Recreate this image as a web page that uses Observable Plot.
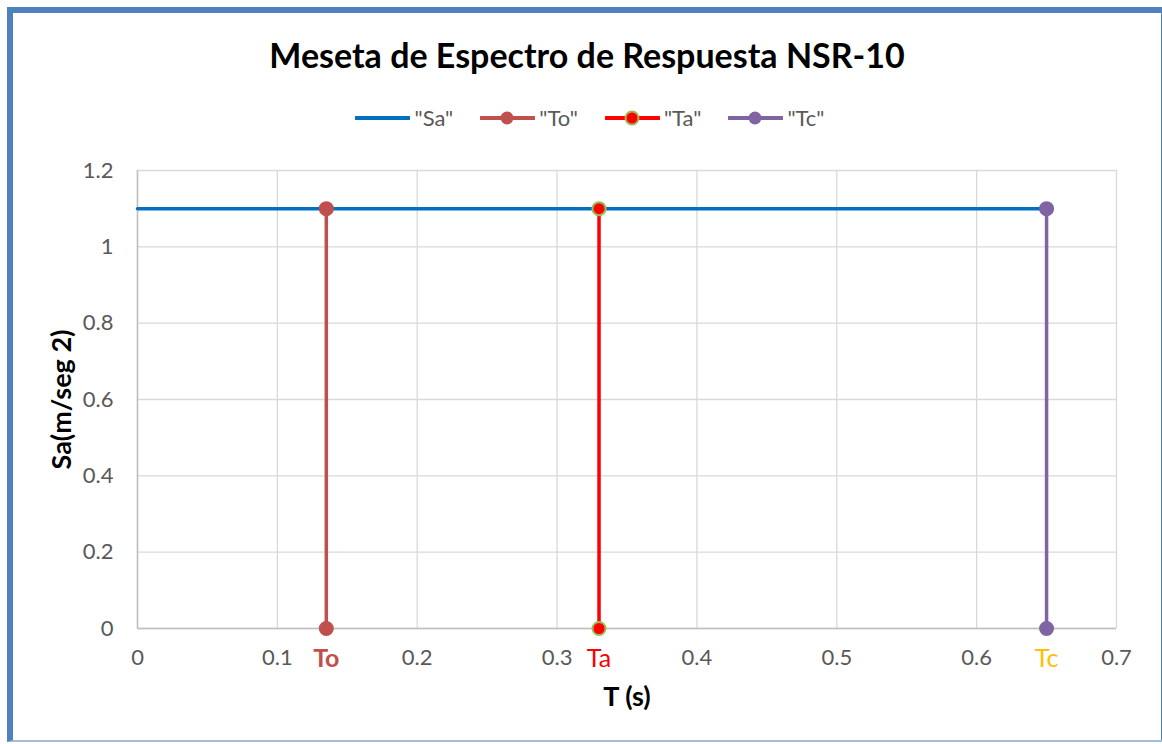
<!DOCTYPE html>
<html>
<head>
<meta charset="utf-8">
<script src="https://cdn.jsdelivr.net/npm/d3@7"></script>
<script src="https://cdn.jsdelivr.net/npm/@observablehq/plot@0.6"></script>
<style>
  html, body { margin: 0; padding: 0; background: #fff; overflow: hidden; }
  body { width: 1162px; height: 744px; position: relative; font-family: Lato, "Open Sans", sans-serif; }
  #frame { position: absolute; left: 7px; top: 7px; width: 1160px; height: 735px; box-sizing: border-box;
           border-left: 6px solid #4F81BD; border-top: 6px solid #4F81BD; border-right: 6px solid #4F81BD; border-bottom: 2px solid #a9bcd6; }
  #title { position: absolute; left: 0; top: 34px; width: 1174px; text-align: center; font-size: 34px; font-weight: bold; color: #000; line-height: 42px; }
  #legend { position: absolute; left: 0; top: 104px; width: 1180px; display: flex; justify-content: center; gap: 27px; font-size: 22px; color: #595959; line-height: 28px; }
  #legend .item { display: flex; align-items: center; gap: 4px; }
  #chart { position: absolute; left: 0; top: 140px; }
</style>
</head>
<body>
<div id="frame"></div>
<div id="title">Meseta de Espectro de Respuesta NSR-10</div>
<div id="legend"></div>
<div id="chart"></div>
<script>
// ---- data ----
const seriesNames = ["\"Sa\"", "\"To\"", "\"Ta\"", "\"Tc\""];
const seriesColors = ["#0070C0", "#C0504D", "#FF0000", "#8064A2"];
const periodNames = ["To", "Ta", "Tc"];
const periodValues = [0.135, 0.33, 0.65];
const periodLineColors = ["#C0504D", "#FF0000", "#8064A2"];
const periodMarkerStroke = ["#C0504D", "#9BBB59", "#8064A2"];
const periodLabelColors = ["#C0504D", "#FF0000", "#FFC000"];
const periodLabelWeights = ["bold", "normal", "normal"];
const saValue = 1.1;
const saStartT = 0;
const xTicks = [0, 0.1, 0.2, 0.3, 0.4, 0.5, 0.6, 0.7];
const yTicks = [0, 0.2, 0.4, 0.6, 0.8, 1, 1.2];

// ---- derived tables ----
const saLine = [{T: saStartT, Sa: saValue}, {T: periodValues[2], Sa: saValue}];
const periods = periodNames.map((n, i) => ({
  name: n, T: periodValues[i], line: periodLineColors[i], stroke: periodMarkerStroke[i],
  label: periodLabelColors[i], weight: periodLabelWeights[i]
}));
const markers = periods.flatMap(p => [{...p, Sa: 0}, {...p, Sa: saValue}]);

// ---- legend ----
const legend = document.getElementById("legend");
seriesNames.forEach((name, i) => {
  const item = document.createElement("div");
  item.className = "item";
  const c = seriesColors[i];
  let marker = "";
  if (i > 0) {
    const st = i === 2 ? "#9BBB59" : c;
    marker = `<circle cx="27" cy="8" r="6.5" fill="${c}" stroke="${st}" stroke-width="${i === 2 ? 2 : 0}"/>`;
  }
  item.innerHTML = `<svg width="55" height="16"><line x1="1" x2="54" y1="8" y2="8" stroke="${c}" stroke-width="4" stroke-linecap="round"/>${marker}</svg><span>${name}</span>`;
  legend.appendChild(item);
});

// ---- chart ----
const font = "Lato, 'Open Sans', sans-serif";
const labelMarks = ["bold", "normal"].map(w =>
  Plot.text(periods.filter(p => p.weight === w),
    {x: "T", y: () => 0, text: "name", fill: "label", fontWeight: w, fontSize: 25, dy: 30, lineAnchor: "middle"}));
const chart = Plot.plot({
  width: 1162,
  height: 604,
  marginLeft: 137,
  marginRight: 46,
  marginTop: 30,
  marginBottom: 116,
  style: {fontFamily: font, background: "transparent", overflow: "visible"},
  x: {domain: [0, 0.7]},
  y: {domain: [0, 1.2]},
  marks: [
    Plot.gridX(xTicks, {stroke: "#d9d9d9", strokeOpacity: 1, strokeWidth: 1.3}),
    Plot.gridY(yTicks, {stroke: "#d9d9d9", strokeOpacity: 1, strokeWidth: 1.3}),
    Plot.ruleX([0], {stroke: "#bfbfbf", strokeWidth: 1.5}),
    Plot.ruleY([0], {stroke: "#bfbfbf", strokeWidth: 1.5}),
    Plot.axisX({ticks: xTicks, tickSize: 0, tickPadding: 21, fontSize: 22, fill: "#595959", label: null,
      tickFormat: d => String(+d.toFixed(1))}),
    Plot.axisY({ticks: yTicks, tickSize: 0, tickPadding: 24, fontSize: 22, fill: "#595959", label: null,
      tickFormat: d => String(+d.toFixed(1))}),
    Plot.line(saLine, {x: "T", y: "Sa", stroke: seriesColors[0], strokeWidth: 3.5}),
    Plot.link(periods, {x1: "T", x2: "T", y1: () => 0, y2: () => saValue, stroke: "line", strokeWidth: 3.5}),
    Plot.dot(markers, {x: "T", y: "Sa", r: 6.5, fill: "line", stroke: "stroke", strokeWidth: 2}),
    ...labelMarks,
    Plot.text(["T (s)"], {frameAnchor: "bottom", dy: 69, fontWeight: "bold", fontSize: 27, fill: "#000", lineAnchor: "middle", textAnchor: "middle"}),
    Plot.text(["Sa(m/seg 2)"], {frameAnchor: "left", dx: -75, rotate: -90, fontWeight: "bold", fontSize: 27, fill: "#000", lineAnchor: "middle", textAnchor: "middle"})
  ]
});
document.getElementById("chart").appendChild(chart);
</script>
</body>
</html>
